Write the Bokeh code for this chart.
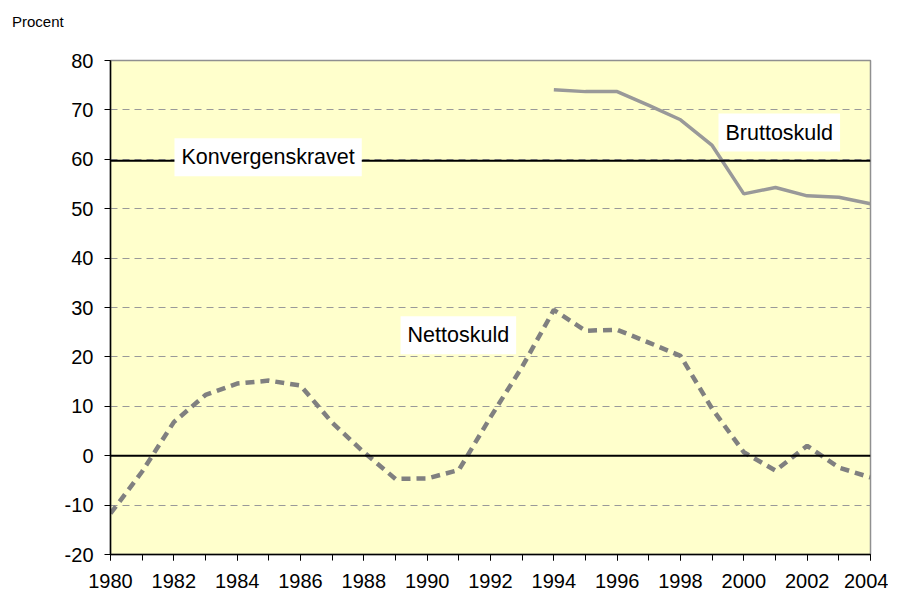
from bokeh.plotting import figure
from bokeh.models import Label, Span, FixedTicker, Range1d, PrintfTickFormatter, Div
from bokeh.layouts import column
from bokeh.embed import file_html
from bokeh.resources import INLINE

years_netto = list(range(1980, 2005))
nettoskuld = [-11.7, -3.2, 6.8, 12.3, 14.6, 15.2, 14.2, 6.7, 0.7, -4.7, -4.6, -2.9,
              7.8, 18.0, 29.5, 25.3, 25.5, 22.9, 20.2, 9.5, 0.7, -3.0, 2.0, -2.4, -4.4]
years_brutto = list(range(1994, 2005))
bruttoskuld = [74.1, 73.7, 73.7, 70.9, 68.0, 62.8, 53.0, 54.3, 52.6, 52.3, 51.0]
konvergenskrav = 59.7
x_ticks = list(range(1980, 2005, 2))
x_minor = list(range(1980, 2005))
y_ticks = list(range(-20, 81, 10))

header = Div(text="Procent", width=888, height=30, margin=(0, 0, 0, 0),
             styles={"font-family": "Liberation Sans", "font-size": "15px",
                     "padding-top": "13px", "padding-left": "12px", "color": "black",
                     "line-height": "17px", "box-sizing": "border-box"})

p = figure(width=888, height=562, output_backend="svg", toolbar_location=None,
           x_range=Range1d(1980, 2004), y_range=Range1d(-20, 80),
           min_border_left=110, min_border_right=18, min_border_top=30, min_border_bottom=38)
p.border_fill_color = "white"
p.background_fill_color = "#FFFFCC"
p.outline_line_color = "#909090"
p.outline_line_width = 1.5

p.xgrid.visible = False
p.ygrid.ticker = FixedTicker(ticks=y_ticks)
p.ygrid.grid_line_color = "#999999"
p.ygrid.grid_line_dash = "7 5"
p.ygrid.grid_line_width = 1

for ax in (p.xaxis[0], p.yaxis[0]):
    ax.axis_line_color = "black"
    ax.axis_line_width = 1.5
    ax.major_tick_line_color = "black"
    ax.minor_tick_line_color = "black"
    ax.major_tick_in = 0
    ax.major_tick_out = 6
    ax.minor_tick_in = 0
    ax.minor_tick_out = 6
    ax.major_label_text_font = "Liberation Sans"
    ax.major_label_text_font_size = "20px"
    ax.major_label_text_color = "black"
    ax.formatter = PrintfTickFormatter(format="%d")

p.xaxis.ticker = FixedTicker(ticks=x_ticks, minor_ticks=x_minor)
p.yaxis.ticker = FixedTicker(ticks=y_ticks)
p.yaxis.major_label_standoff = 11
p.xaxis.major_label_standoff = 13

p.add_layout(Span(location=konvergenskrav, dimension="width", line_color="black", line_width=2))
p.add_layout(Span(location=0, dimension="width", line_color="black", line_width=2))

p.line(years_netto, nettoskuld, line_color="#808080", line_width=4.5, line_dash="9 6")
p.line(years_brutto, bruttoskuld, line_color="#999999", line_width=3.5)

def add_label(text, x, y):
    p.add_layout(Label(x=x, y=y, text=text, text_font="Liberation Sans", text_font_size="21.5px",
                       text_baseline="middle", text_align="left", text_color="black",
                       background_fill_color="white", padding=7))

add_label("Konvergenskravet", 1982.02, 60.4)
add_label("Bruttoskuld", 1999.2, 65.4)
add_label("Nettoskuld", 1989.16, 24.4)

layout = column(header, p, spacing=0)
open("out.html", "w").write(file_html(layout, INLINE))
